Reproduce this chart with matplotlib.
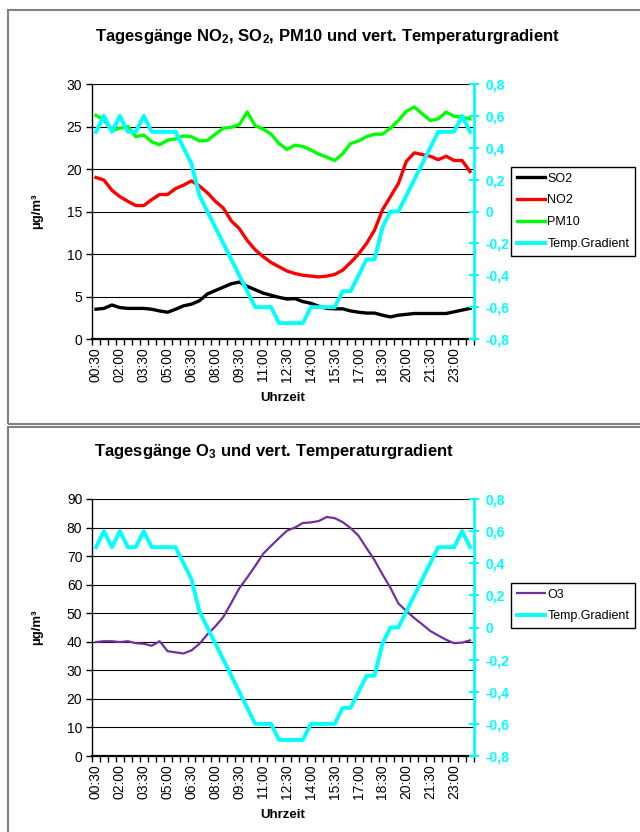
import numpy as np
import matplotlib
matplotlib.use("Agg")
import matplotlib.pyplot as plt
from matplotlib.patches import Rectangle

plt.rcParams['font.family'] = ['Liberation Sans', 'DejaVu Sans']
plt.rcParams['mathtext.fontset'] = 'custom'
plt.rcParams['mathtext.rm'] = 'Liberation Sans:bold'
plt.rcParams['mathtext.it'] = 'Liberation Sans:bold'
plt.rcParams['mathtext.bf'] = 'Liberation Sans:bold'

# Halbstundenwerte 00:30 .. 24:00
zeit_labels = ["00:30", "02:00", "03:30", "05:00", "06:30", "08:00", "09:30", "11:00",
               "12:30", "14:00", "15:30", "17:00", "18:30", "20:00", "21:30", "23:00"]

so2 = [3.5, 3.6, 4.0, 3.7, 3.6, 3.6, 3.6, 3.5, 3.3, 3.15, 3.5, 3.9,
       4.1, 4.5, 5.3, 5.7, 6.1, 6.5, 6.7, 6.2, 5.8, 5.4, 5.15, 4.9,
       4.7, 4.75, 4.4, 4.2, 3.85, 3.6, 3.55, 3.55, 3.3, 3.15, 3.05, 3.05,
       2.8, 2.6, 2.8, 2.9, 3.0, 3.0, 3.0, 3.0, 3.0, 3.2, 3.4, 3.6]

no2 = [19.0, 18.7, 17.5, 16.75, 16.2, 15.7, 15.7, 16.4, 17.0, 17.0, 17.7, 18.1,
       18.6, 18.0, 17.2, 16.2, 15.4, 13.9, 13.0, 11.6, 10.5, 9.7, 9.0, 8.5,
       8.0, 7.7, 7.5, 7.4, 7.3, 7.4, 7.6, 8.1, 9.0, 10.0, 11.25, 12.8,
       15.2, 16.75, 18.3, 20.9, 21.9, 21.7, 21.5, 21.1, 21.5, 21.0, 21.0, 19.7]

pm10 = [26.3, 25.8, 24.5, 24.8, 25.0, 23.8, 24.0, 23.2, 22.85, 23.4, 23.55, 23.9,
        23.8, 23.3, 23.35, 24.1, 24.8, 24.9, 25.2, 26.7, 25.1, 24.7, 24.1, 23.0,
        22.3, 22.8, 22.65, 22.25, 21.75, 21.4, 21.0, 21.8, 23.0, 23.3, 23.8, 24.1,
        24.1, 24.8, 25.7, 26.8, 27.3, 26.5, 25.7, 25.9, 26.7, 26.2, 26.1, 25.9]

o3 = [39.9, 40.2, 40.2, 39.9, 40.2, 39.5, 39.3, 38.6, 40.2, 36.7, 36.3, 35.9,
      37.0, 39.3, 42.6, 45.4, 48.7, 53.6, 58.7, 62.5, 66.5, 70.8, 73.6, 76.3,
      78.9, 80.0, 81.6, 81.8, 82.3, 83.7, 83.3, 81.9, 79.8, 77.1, 72.8, 68.6,
      63.6, 58.9, 53.4, 50.8, 48.3, 46.1, 43.8, 42.2, 40.7, 39.5, 39.7, 40.5]

temp_gradient = [0.5, 0.6, 0.5, 0.6, 0.5, 0.5, 0.6, 0.5, 0.5, 0.5, 0.5, 0.4,
                 0.3, 0.1, 0.0, -0.1, -0.2, -0.3, -0.4, -0.5, -0.6, -0.6, -0.6, -0.7,
                 -0.7, -0.7, -0.7, -0.6, -0.6, -0.6, -0.6, -0.5, -0.5, -0.4, -0.3, -0.3,
                 -0.1, 0.0, 0.0, 0.1, 0.2, 0.3, 0.4, 0.5, 0.5, 0.5, 0.6, 0.5]

x = np.arange(len(so2))
cyan = '#00FFFF'

fig = plt.figure(figsize=(6.4, 8.32), dpi=100)
W, H = 640.0, 832.0

# Rahmen um die beiden Diagramme
fig.patches.append(Rectangle((8 / W, 1 - 424 / H), 640 / W, 414 / H, transform=fig.transFigure,
                             fill=False, edgecolor='#808080', linewidth=1.5))
fig.patches.append(Rectangle((8 / W, -0.1), 640 / W, 1 - 427 / H + 0.1, transform=fig.transFigure,
                             fill=False, edgecolor='#808080', linewidth=1.5))


def komma(v):
    if abs(v) < 1e-9:
        return "0"
    return f"{v:.1f}".replace('.', ',')


def achsen(ax, ymax, ystep):
    ax.set_xlim(-0.5, len(x) - 0.5)
    ax.set_ylim(0, ymax)
    ax.set_yticks(np.arange(0, ymax + 1, ystep))
    ax.tick_params(axis='y', labelsize=10, length=4, width=1, direction='out', pad=3)
    ax.set_xticks(np.arange(0, len(x), 3))
    ax.set_xticklabels(zeit_labels, rotation=90, fontsize=10)
    ax.set_xticks(np.arange(-0.5, len(x), 1), minor=True)
    ax.tick_params(axis='x', which='major', length=0, pad=6)
    ax.tick_params(axis='x', which='minor', length=4, width=1, direction='out')
    ax.grid(axis='y', color='black', linewidth=0.8)
    ax.set_axisbelow(True)
    ax.spines['top'].set_visible(False)
    ax.spines['right'].set_visible(False)
    ax.spines['left'].set_linewidth(1)
    ax.spines['bottom'].set_linewidth(1.6)
    ax.set_xlabel("Uhrzeit", fontsize=9.5, fontweight='bold', labelpad=7)
    ax.set_ylabel("µg/m³", fontsize=9.5, fontweight='bold', labelpad=17)


def rechte_achse(ax):
    ax2 = ax.twinx()
    ax2.set_ylim(-0.8, 0.8)
    ticks = np.arange(-0.8, 0.81, 0.2)
    ax2.set_yticks(ticks)
    ax2.set_yticklabels([komma(t) for t in ticks], color=cyan, fontsize=10, fontweight='bold')
    ax2.tick_params(axis='y', colors=cyan, length=7, width=1.5, direction='inout', pad=5)
    for s in ['top', 'left', 'bottom']:
        ax2.spines[s].set_visible(False)
    ax2.spines['right'].set_color(cyan)
    ax2.spines['right'].set_linewidth(2)
    return ax2


# oberes Diagramm: NO2, SO2, PM10
ax1 = fig.add_axes([92 / W, 1 - 339 / H, 382 / W, 255 / H])
achsen(ax1, 30, 5)
l1, = ax1.plot(x, so2, color='black', lw=2.4, label='SO2')
l2, = ax1.plot(x, no2, color='#FF0000', lw=2.4, label='NO2')
l3, = ax1.plot(x, pm10, color='#00FF00', lw=2.4, label='PM10')
ax1b = rechte_achse(ax1)
l4, = ax1b.plot(x, temp_gradient, color=cyan, lw=2.8, label='Temp.Gradient')
fig.text(327 / W, 1 - 36 / H, r"Tagesgänge NO$_2$, SO$_2$, PM10 und vert. Temperaturgradient",
         ha='center', va='center', fontsize=12, fontweight='bold')
fig.legend([l1, l2, l3, l4], ['SO2', 'NO2', 'PM10', 'Temp.Gradient'],
           loc='upper left', bbox_to_anchor=(511 / W, 1 - 167 / H), bbox_transform=fig.transFigure,
           fontsize=9, frameon=True, fancybox=False, edgecolor='black', framealpha=1,
           borderaxespad=0, borderpad=0.45, labelspacing=0.78, handlelength=2.3, handletextpad=0.15)

# unteres Diagramm: O3
ax3 = fig.add_axes([92 / W, 1 - 756 / H, 382 / W, 257 / H])
achsen(ax3, 90, 10)
l5, = ax3.plot(x, o3, color='#7030A0', lw=1.6, label='O3')
ax3b = rechte_achse(ax3)
l6, = ax3b.plot(x, temp_gradient, color=cyan, lw=2.8, label='Temp.Gradient')
fig.text(274 / W, 1 - 452 / H, r"Tagesgänge O$_3$ und vert. Temperaturgradient",
         ha='center', va='center', fontsize=12, fontweight='bold')
fig.legend([l5, l6], ['O3', 'Temp.Gradient'],
           loc='upper left', bbox_to_anchor=(511 / W, 1 - 583 / H), bbox_transform=fig.transFigure,
           fontsize=9, frameon=True, fancybox=False, edgecolor='black', framealpha=1,
           borderaxespad=0, borderpad=0.45, labelspacing=0.78, handlelength=2.3, handletextpad=0.15)

fig.savefig("out.png", dpi=100)
